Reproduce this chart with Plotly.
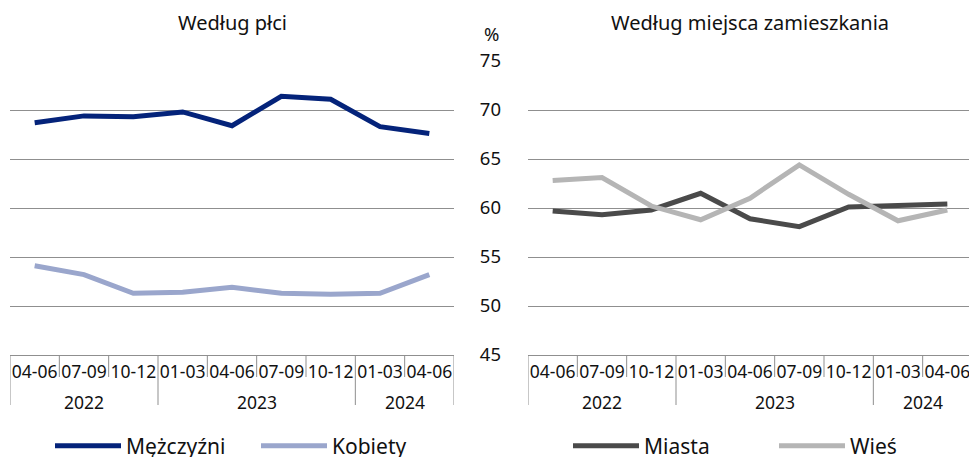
import plotly.graph_objects as go

years = ["2022"] * 3 + ["2023"] * 4 + ["2024"] * 2
quarters = ["04-06", "07-09", "10-12", "01-03", "04-06", "07-09", "10-12", "01-03", "04-06"]

mezczyzni = [68.7, 69.4, 69.3, 69.8, 68.4, 71.4, 71.1, 68.3, 67.6]
kobiety = [54.1, 53.2, 51.3, 51.4, 51.9, 51.3, 51.2, 51.3, 53.2]
miasta = [59.7, 59.3, 59.8, 61.5, 58.9, 58.1, 60.1, 60.2, 60.4]
wies = [62.8, 63.1, 60.2, 58.8, 61.0, 64.4, 61.4, 58.7, 59.8]

title_left = "Według płci"
title_right = "Według miejsca zamieszkania"

# unique category keys (one per period) so repeated quarter labels stay separate
cats = [f"{y} {q}" for y, q in zip(years, quarters)]

FONT = "Noto Sans, Roboto, sans-serif"
GRID = "#8f8f8f"
TXT = "#111111"

W, H = 975, 457
ML, MR, MT, MB = 10, 3, 61, 102
PW = W - ML - MR
PH = H - MT - MB

fig = go.Figure()
fig.add_trace(go.Scatter(x=cats, y=mezczyzni, name="Mężczyźni", mode="lines",
                         line=dict(color="#04237a", width=5), xaxis="x", yaxis="y", legend="legend"))
fig.add_trace(go.Scatter(x=cats, y=kobiety, name="Kobiety", mode="lines",
                         line=dict(color="#9aa6cc", width=5), xaxis="x", yaxis="y", legend="legend"))
fig.add_trace(go.Scatter(x=cats, y=miasta, name="Miasta", mode="lines",
                         line=dict(color="#4a4a4a", width=5), xaxis="x2", yaxis="y2", legend="legend2"))
fig.add_trace(go.Scatter(x=cats, y=wies, name="Wieś", mode="lines",
                         line=dict(color="#b5b5b5", width=5), xaxis="x2", yaxis="y2", legend="legend2"))

xcommon = dict(type="category", categoryorder="array", categoryarray=cats,
               tickmode="array", tickvals=cats, ticktext=quarters,
               range=[-0.5, len(cats) - 0.5],
               showline=True, linecolor=GRID, linewidth=1, ticks="", showgrid=False,
               tickangle=0, ticklabelstandoff=1,
               tickfont=dict(family=FONT, size=17.5, color=TXT), zeroline=False)
ycommon = dict(range=[45, 75], dtick=5, tick0=45, showgrid=True, gridcolor=GRID, gridwidth=1,
               zeroline=False, showline=False, ticks="",
               tickfont=dict(family=FONT, size=18.5, color=TXT))

legcommon = dict(orientation="h", yanchor="middle", y=-0.31, xanchor="left",
                 font=dict(family=FONT, size=21, color=TXT),
                 entrywidth=125, entrywidthmode="pixels", itemwidth=66,
                 bgcolor="rgba(0,0,0,0)")

left_dom = [0, 444 / PW]
right_dom = [(528 - ML) / PW, 1.0]

# axis box decorations: separators between periods, full height between years
shapes = []
annotations = []
short = -22 / PH
full = -50 / PH
groups = []
for i, y in enumerate(years):
    if not groups or groups[-1][0] != y:
        groups.append([y, i, i])
    else:
        groups[-1][2] = i
year_bounds = {g[1] - 0.5 for g in groups} | {groups[-1][2] + 0.5}
for xa, ya in (("x", "y"), ("x2", "y2")):
    for k in range(len(cats) + 1):
        b = k - 0.5
        shapes.append(dict(type="line", xref=xa, yref=f"{ya} domain", x0=b, x1=b,
                           y0=0, y1=full if b in year_bounds else short,
                           line=dict(color=GRID, width=1)))
    for y, i0, i1 in groups:
        annotations.append(dict(text=y, xref=xa, yref=f"{ya} domain", x=(i0 + i1) / 2, y=0,
                                xanchor="center", yanchor="middle", yshift=-47, showarrow=False,
                                font=dict(family=FONT, size=17.5, color=TXT)))

annotations += [
    dict(text=title_left, x=(232 - ML) / PW, xref="paper", y=1, yref="paper",
         xanchor="center", yanchor="middle",
         yshift=39, showarrow=False, font=dict(family=FONT, size=20, color=TXT)),
    dict(text=title_right, x=(750 - ML) / PW, xref="paper", y=1, yref="paper",
         xanchor="center", yanchor="middle",
         yshift=39, showarrow=False, font=dict(family=FONT, size=20, color=TXT)),
    dict(text="%", x=(491 - ML) / PW, xref="paper", y=1, yref="paper",
         xanchor="center", yanchor="middle",
         yshift=28, showarrow=False, font=dict(family=FONT, size=18.5, color=TXT)),
]

fig.update_layout(
    width=W, height=H,
    margin=dict(l=ML, r=MR, t=MT, b=MB, autoexpand=False),
    plot_bgcolor="white", paper_bgcolor="white",
    showlegend=True,
    xaxis=dict(domain=left_dom, anchor="y", **xcommon),
    yaxis=dict(anchor="x", showticklabels=False, **ycommon),
    xaxis2=dict(domain=right_dom, anchor="y2", **xcommon),
    yaxis2=dict(anchor="x2", showticklabels=True, ticklabelstandoff=26, **ycommon),
    legend=dict(x=(50 - ML) / PW, **legcommon),
    legend2=dict(x=(568 - ML) / PW, **legcommon),
    shapes=shapes,
    annotations=annotations,
)

fig.write_html("out.html", config={"displayModeBar": False},
               post_script="document.body.style.margin='0';document.body.style.overflow='hidden';")
